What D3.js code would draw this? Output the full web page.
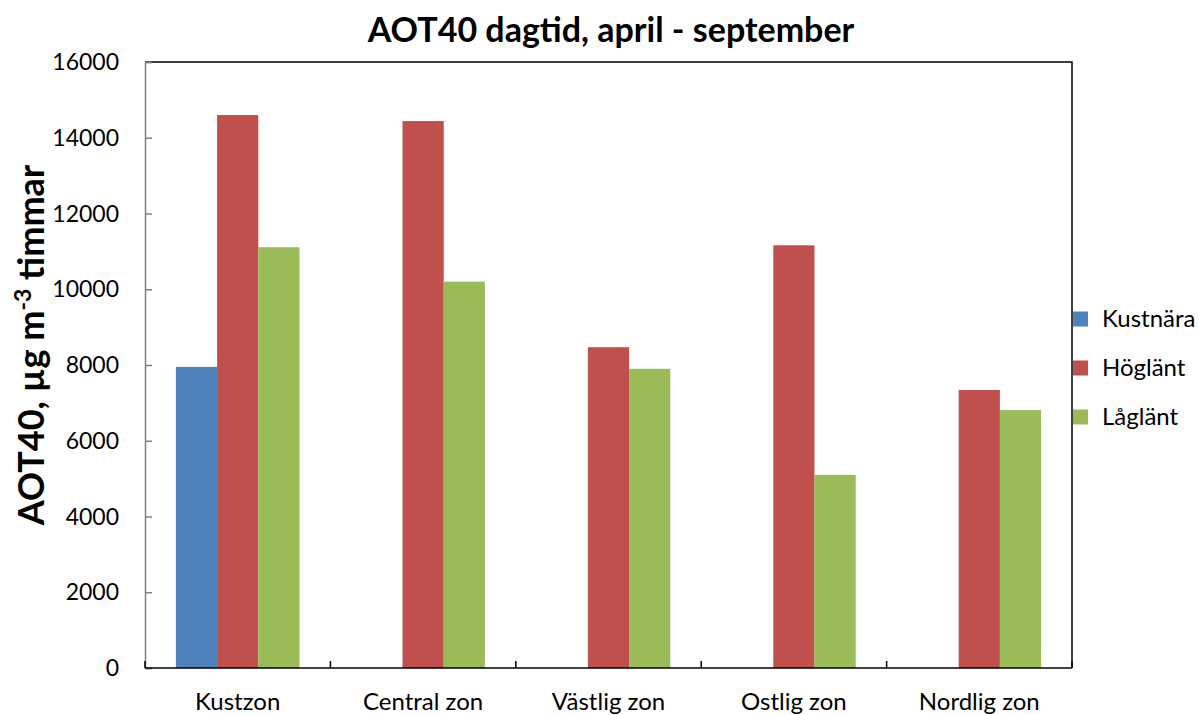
<!DOCTYPE html>
<html>
<head>
<meta charset="utf-8">
<script src="https://cdn.jsdelivr.net/npm/d3@7"></script>
<style>
  body { margin: 0; background: #fff; }
  text { font-family: Lato, "Open Sans", sans-serif; fill: #000; }
</style>
</head>
<body>
<div id="container"></div>
<script>
/* DATA */
const zones = ["Kustzon", "Central zon", "Västlig zon", "Ostlig zon", "Nordlig zon"];
const seriesNames = ["Kustnära", "Höglänt", "Låglänt"];
const kustnara = [7950, null, null, null, null];
const hoglant = [14600, 14440, 8470, 11160, 7340];
const laglant = [11110, 10200, 7900, 5100, 6810];
const yTicks = [0, 2000, 4000, 6000, 8000, 10000, 12000, 14000, 16000];
const colors = ["#4f81bd", "#c0504d", "#9bbb59"];

const seriesValues = [kustnara, hoglant, laglant];

/* LAYOUT */
const width = 1199, height = 715;
const margin = { left: 145, right: 127, top: 62, bottom: 47 };

const svg = d3.select("#container")
  .append("svg")
  .attr("width", width)
  .attr("height", height);

// SCALES
const x = d3.scaleBand()
  .domain(zones)
  .range([margin.left, width - margin.right]);

const inner = d3.scaleBand()
  .domain(seriesNames)
  .range([0, x.bandwidth()])
  .paddingInner(0)
  .paddingOuter(0.75);

const y = d3.scaleLinear()
  .domain([0, 16000])
  .range([height - margin.bottom, margin.top]);

// BARS
const groups = svg.selectAll(".zone")
  .data(zones)
  .join("g")
  .attr("class", "zone")
  .attr("transform", d => `translate(${x(d)},0)`);

groups.selectAll("rect")
  .data((d, i) => seriesNames.map((s, j) => ({ s, v: seriesValues[j][i], c: colors[j] })))
  .join("rect")
  .filter(d => d.v != null)
  .attr("x", d => inner(d.s))
  .attr("width", inner.bandwidth())
  .attr("y", d => y(d.v))
  .attr("height", d => y(0) - y(d.v))
  .attr("fill", d => d.c);

// FRAME (top and right border)
svg.append("path")
  .attr("d", `M${margin.left},${margin.top}H${width - margin.right}V${y(0)}`)
  .attr("fill", "none")
  .attr("stroke", "#000")
  .attr("stroke-width", 1.5);

// Y AXIS
const yAxis = svg.append("g")
  .attr("transform", `translate(${margin.left},0)`)
  .call(d3.axisRight(y).tickValues(yTicks).tickSize(7).tickFormat(""));
yAxis.selectAll("line, path").attr("stroke", "#808080").attr("stroke-width", 1.5);

svg.selectAll(".ylab")
  .data(yTicks)
  .join("text")
  .attr("class", "ylab")
  .attr("x", 119)
  .attr("y", d => y(d))
  .attr("dy", "0.35em")
  .attr("text-anchor", "end")
  .style("font-size", "23px")
  .text(d => d);

// X AXIS
const bounds = zones.map(z => x(z)).concat([width - margin.right]);
svg.append("line")
  .attr("x1", margin.left).attr("x2", width - margin.right)
  .attr("y1", y(0)).attr("y2", y(0))
  .attr("stroke", "#000").attr("stroke-width", 1.5);
svg.selectAll(".xtick")
  .data(bounds)
  .join("line")
  .attr("class", "xtick")
  .attr("x1", d => d).attr("x2", d => d)
  .attr("y1", y(0)).attr("y2", y(0) - 7)
  .attr("stroke", "#000").attr("stroke-width", 1.5);

svg.selectAll(".xlab")
  .data(zones)
  .join("text")
  .attr("class", "xlab")
  .attr("x", d => x(d) + x.bandwidth() / 2)
  .attr("y", 710)
  .attr("text-anchor", "middle")
  .style("font-size", "24px")
  .text(d => d);

// TITLE
svg.append("text")
  .attr("x", 611)
  .attr("y", 42)
  .attr("text-anchor", "middle")
  .style("font-size", "34px")
  .style("font-weight", "bold")
  .text("AOT40 dagtid, april - september");

// Y TITLE
const yt = svg.append("text")
  .attr("transform", "translate(44,345) rotate(-90)")
  .attr("text-anchor", "middle")
  .style("font-size", "36px")
  .style("font-weight", "bold");
yt.append("tspan").text("AOT40, µg m");
yt.append("tspan").attr("dy", -13).style("font-size", "23px").text("-3");
yt.append("tspan").attr("dy", 13).text(" timmar");

// LEGEND
const legend = svg.selectAll(".legend")
  .data(seriesNames)
  .join("g")
  .attr("class", "legend")
  .attr("transform", (d, i) => `translate(1073,${319 + i * 49})`);
legend.append("rect")
  .attr("y", -7.5)
  .attr("width", 15).attr("height", 15)
  .attr("fill", (d, i) => colors[i]);
legend.append("text")
  .attr("x", 29)
  .attr("dy", "0.35em")
  .style("font-size", "24px")
  .text(d => d);
</script>
</body>
</html>
